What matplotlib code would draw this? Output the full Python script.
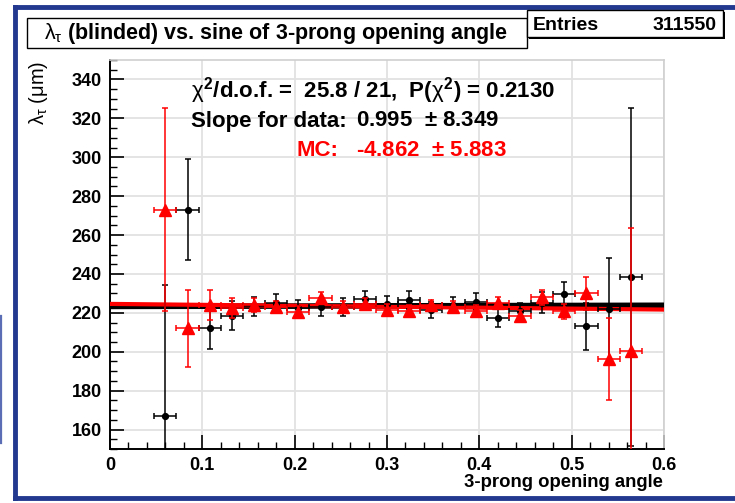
import matplotlib
matplotlib.use("Agg")
import matplotlib.pyplot as plt
from matplotlib.patches import Rectangle
from matplotlib.lines import Line2D
from matplotlib.ticker import MultipleLocator, FuncFormatter

plt.rcParams['font.family'] = ['Liberation Sans', 'DejaVu Sans']
plt.rcParams['mathtext.fontset'] = 'custom'
plt.rcParams['mathtext.rm'] = 'Liberation Sans:bold'
plt.rcParams['mathtext.it'] = 'Liberation Sans'
plt.rcParams['mathtext.bf'] = 'Liberation Sans:bold'

# sine of the 3-prong opening angle (bin centres, bin width 0.024)
x_centers = [0.060, 0.084, 0.108, 0.132, 0.156, 0.180, 0.204, 0.228, 0.252, 0.276, 0.300,
             0.324, 0.348, 0.372, 0.396, 0.420, 0.444, 0.468, 0.492, 0.516, 0.540, 0.564]
x_halfwidth = 0.012

# data: mean decay length per bin (um) and its uncertainty
data_lambda = [167.2, 273.1, 212.1, 218.6, 223.3, 225.1, 222.5, 222.9, 223.1, 227.2, 224.6,
               226.7, 221.5, 224.0, 225.8, 217.4, 220.7, 225.2, 229.8, 213.0, 222.0, 238.3]
data_err = [67.0, 26.0, 10.5, 7.5, 4.7, 4.5, 4.0, 4.5, 4.5, 4.0, 4.0,
            4.5, 4.0, 4.0, 4.5, 4.5, 4.5, 5.4, 6.0, 12.0, 26.0, 87.0]

# Monte Carlo
mc_lambda = [273.1, 212.0, 224.1, 222.6, 224.1, 222.9, 220.3, 227.5, 222.9, 224.7, 221.5,
             221.2, 223.8, 222.9, 220.8, 225.0, 218.5, 228.0, 220.8, 230.1, 196.3, 200.3]
mc_err = [52.0, 20.0, 7.7, 5.0, 3.5, 3.0, 3.0, 3.0, 3.0, 3.0, 3.0,
          3.0, 3.0, 3.0, 3.0, 3.0, 3.0, 4.0, 4.0, 8.5, 21.0, 63.4]

# straight-line fits: intercept (um), slope (um per unit sine)
data_fit = (223.3, 0.995)
mc_fit = (224.6, -4.862)

entries = 311550
chi2, ndof, prob = 25.8, 21, 0.2130
data_slope, data_slope_err = 0.995, 8.349
mc_slope, mc_slope_err = -4.862, 5.883

W, H = 735, 503
fig = plt.figure(figsize=(W / 100, H / 100), dpi=100)
fig.patch.set_facecolor('white')


def fx(px):
    return px / W


def fy(py):
    return 1 - py / H


# canvas frame
frame_blue = '#22398f'
for (x0, y0, x1, y1) in [(15.5, 6.5, 735, 6.5), (15.5, 6.5, 15.5, 498), (15.5, 498, 735, 498)]:
    fig.add_artist(Line2D([fx(x0), fx(x1)], [fy(y0), fy(y1)], color=frame_blue, lw=3.5,
                          transform=fig.transFigure))
fig.add_artist(Line2D([fx(0.8), fx(0.8)], [fy(316), fy(443)], color='#5a6db5', lw=1.6,
                      transform=fig.transFigure))

ax = fig.add_axes([fx(110), fy(449), fx(664) - fx(110), fy(60) - fy(449)])
ax.set_xlim(0, 0.6)
ax.set_ylim(150, 350)

ax.grid(True, color='#e2e2e2', lw=1.3, zorder=0)
ax.set_axisbelow(True)
ax.xaxis.set_major_locator(MultipleLocator(0.1))
ax.xaxis.set_minor_locator(MultipleLocator(0.02))
ax.yaxis.set_minor_locator(MultipleLocator(5))
ax.set_yticks(range(160, 341, 20))
ax.tick_params(axis='both', which='major', direction='in', length=10, width=1.2,
               labelsize=13, pad=6)
ax.tick_params(axis='both', which='minor', direction='in', length=5, width=1.0)
ax.tick_params(top=False, right=False, which='both')
ax.xaxis.set_major_formatter(FuncFormatter(lambda v, p: '0' if abs(v) < 1e-9 else f'{v:.1f}'))
for lab in ax.get_xticklabels() + ax.get_yticklabels():
    lab.set_fontweight('bold')
for s in ('left', 'bottom'):
    ax.spines[s].set_linewidth(1.4)
for s in ('top', 'right'):
    ax.spines[s].set_color('#cfcfcf')
    ax.spines[s].set_linewidth(1.2)

# fitted lines
xl = [0.0, 0.6]
ax.plot(xl, [data_fit[0] + data_fit[1] * v for v in xl], color='black', lw=4, zorder=3,
        solid_capstyle='butt')
ax.plot(xl, [mc_fit[0] + mc_fit[1] * v for v in xl], color='#ff0000', lw=3, zorder=4,
        solid_capstyle='butt')

xerr = [x_halfwidth] * len(x_centers)
ax.errorbar(x_centers, data_lambda, yerr=data_err, xerr=xerr, fmt='o', color='black',
            ms=4.2, elinewidth=1.1, capsize=2.2, capthick=1.1, zorder=5)
ax.errorbar(x_centers, mc_lambda, yerr=mc_err, xerr=xerr, fmt='^', color='#ff0000',
            ms=8, elinewidth=1.1, capsize=2.2, capthick=1.1, zorder=6)

# fit summary
fs = 16
fig.text(fx(191), fy(97.5), r'$\chi^{2}$/d.o.f. =  %.1f / %d,  P($\chi^{2}$) = %.4f' % (chi2, ndof, prob),
         fontsize=fs, fontweight='bold', va='baseline', ha='left')
fig.text(fx(191), fy(126.5), 'Slope for data:', fontsize=fs, fontweight='bold',
         va='baseline', ha='left')
fig.text(fx(356), fy(126.5), '%.3f  $\\pm$ %.3f' % (data_slope, data_slope_err), fontsize=fs,
         fontweight='bold', va='baseline', ha='left')
fig.text(fx(297), fy(156), 'MC:', fontsize=fs, fontweight='bold', color='#ff0000',
         va='baseline', ha='left')
fig.text(fx(356), fy(156), '%.3f  $\\pm$ %.3f' % (mc_slope, mc_slope_err), fontsize=fs,
         fontweight='bold', color='#ff0000', va='baseline', ha='left')

# title box
fig.add_artist(Rectangle((fx(27), fy(48)), fx(527) - fx(27), fy(18) - fy(48),
                         facecolor='white', edgecolor='black', lw=1.0,
                         transform=fig.transFigure, zorder=5))
fig.text(fx(276), fy(33.5), r'$\lambda_{\tau}$ (blinded) vs. sine of 3-prong opening angle',
         fontsize=15.5, fontweight='bold', ha='center', va='center', zorder=6)

# statistics box with shadow
fig.add_artist(Rectangle((fx(529), fy(38.5)), fx(723) - fx(527), fy(10) - fy(37),
                         facecolor='black', edgecolor='none',
                         transform=fig.transFigure, zorder=5))
fig.add_artist(Rectangle((fx(527), fy(37)), fx(723) - fx(527), fy(10) - fy(37),
                         facecolor='white', edgecolor='black', lw=1.0,
                         transform=fig.transFigure, zorder=6))
fig.text(fx(533), fy(29.5), 'Entries', fontsize=14, fontweight='bold', ha='left',
         va='baseline', zorder=7)
fig.text(fx(717), fy(29.5), str(entries), fontsize=14, fontweight='bold', ha='right',
         va='baseline', zorder=7)

# axis titles
fig.text(fx(663), fy(487), '3-prong opening angle', fontsize=13.3, fontweight='bold',
         ha='right', va='baseline')
fig.text(fx(38), fy(61), r'$\lambda_{\tau}$ ($\mu$m)', fontsize=14.5, rotation=90,
         ha='center', va='top')

fig.savefig('out.png', dpi=100, facecolor='white')
